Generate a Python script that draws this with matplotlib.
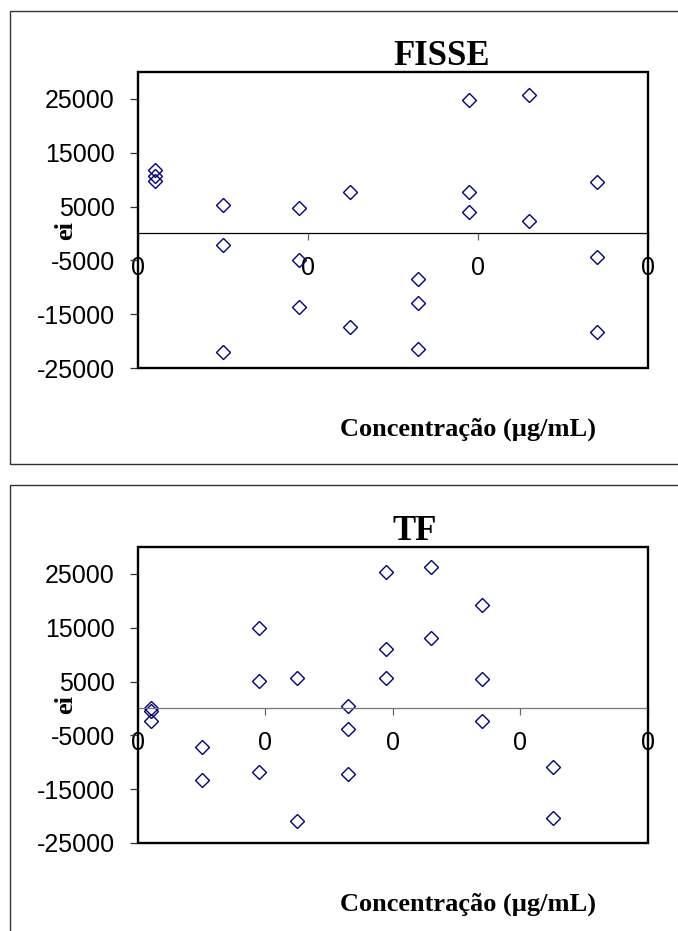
import matplotlib
matplotlib.use("Agg")
import matplotlib.pyplot as plt
from matplotlib.patches import Rectangle

# FISSE panel (x axis 0..3, all tick labels print as "0")
fisse_x = [0.1, 0.1, 0.1, 0.5, 0.5, 0.5, 0.95, 0.95, 0.95, 1.25, 1.25,
           1.65, 1.65, 1.65, 1.95, 1.95, 1.95, 2.3, 2.3, 2.7, 2.7, 2.7]
fisse_y = [11850, 10600, 9800, 5270, -2110, -22080, 4650, -5020, -13590,
           7750, -17300, -8500, -12900, -21460, 24750, 7630, 4030,
           25800, 2360, 9490, -4400, -18360]

# TF panel (x axis 0..4)
tf_x = [0.1, 0.1, 0.1, 0.5, 0.5, 0.95, 0.95, 0.95, 1.25, 1.25,
        1.65, 1.65, 1.65, 1.95, 1.95, 1.95, 2.3, 2.3, 2.7, 2.7, 2.7,
        3.26, 3.26]
tf_y = [100, -550, -2400, -7150, -13370, 15040, 5140, -11880, 5630, -20980,
        495, -3900, -12190, 25430, 11080, 5750, 26240, 13000,
        19180, 5510, -2410, -10950, -20360]

y_ticks = [25000, 15000, 5000, -5000, -15000, -25000]
x_label = "Concentração (µg/mL)"

W, H = 678, 931
SANS = "Liberation Sans"
SERIF = "Liberation Serif"

fig = plt.figure(figsize=(W / 100, H / 100), dpi=100)


def fx(px):
    return px / W


def fy(py):
    return 1 - py / H


def panel(top_px, xs, ys, xmax, title, title_x, box_top, box_bottom, zero_col):
    ax = fig.add_axes([fx(138), fy(top_px + 296), fx(509.5), 296 / H])
    ax.plot(xs, ys, linestyle="none", marker="D", markersize=6.8,
            markerfacecolor="none", markeredgecolor="#000080",
            markeredgewidth=1.0, clip_on=False)
    ax.set_xlim(0, xmax)
    ax.set_ylim(-25000, 30000)

    for s in ["left", "right", "top"]:
        ax.spines[s].set_visible(False)
    ax.spines["bottom"].set_position(("data", 0))
    ax.spines["bottom"].set_linewidth(0.9)
    ax.spines["bottom"].set_color(zero_col)
    ax.add_patch(Rectangle((0, 0), 1, 1, transform=ax.transAxes, fill=False,
                           lw=1.7, edgecolor="black", clip_on=False, zorder=3))

    ax.set_yticks(y_ticks)
    ax.set_yticklabels([str(v) for v in y_ticks], fontfamily=SANS, fontsize=18)
    ax.set_xticks(range(xmax + 1))
    ax.set_xticklabels(["0"] * (xmax + 1), fontfamily=SANS, fontsize=18)
    ax.tick_params(axis="y", length=5.8, width=0.9, color="#333333", pad=11)
    ax.tick_params(axis="x", length=5.0, width=0.9, color="#666666", pad=11)

    fig.text(fx(title_x), fy(top_px - 7), title, fontfamily=SERIF,
             fontweight="bold", fontsize=25, ha="center", va="baseline")
    fig.text(fx(468), fy(top_px + 364), x_label, fontfamily=SERIF,
             fontweight="bold", fontsize=19, ha="center", va="baseline")
    fig.text(fx(66), fy(top_px + 158), "ei", fontfamily=SERIF,
             fontweight="bold", fontsize=19, rotation=90,
             ha="center", va="center")

    fig.add_artist(Rectangle((fx(9.7), fy(box_bottom)), 1.2,
                             (box_bottom - box_top) / H,
                             transform=fig.transFigure, fill=False,
                             lw=1.0, edgecolor="#333333"))
    return ax


panel(72, fisse_x, fisse_y, 3, "FISSE", 441.5, 10.7, 464, "black")
panel(547, tf_x, tf_y, 4, "TF", 414.5, 485.3, 960, "#777777")

fig.savefig("out.png", dpi=100)
